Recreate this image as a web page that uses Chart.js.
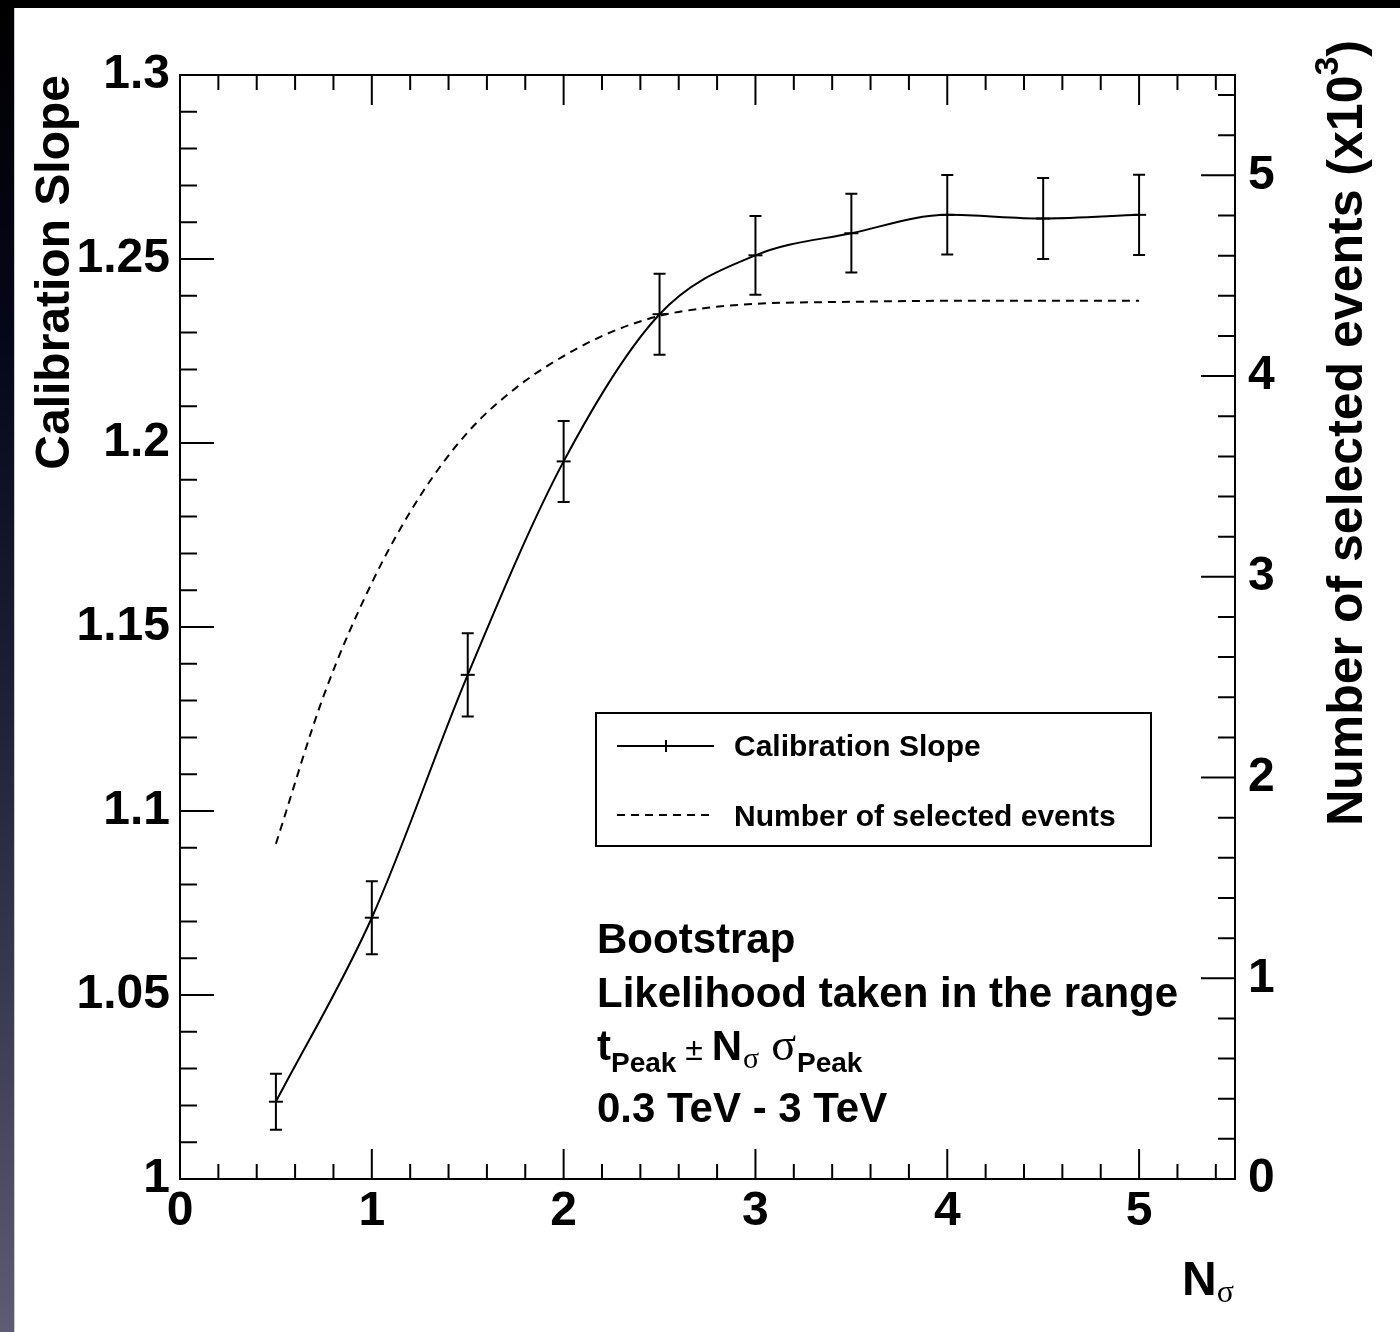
<!DOCTYPE html>
<html>
<head>
<meta charset="utf-8">
<title>Calibration Slope vs N sigma</title>
<script src="https://cdn.jsdelivr.net/npm/chart.js@4.4.1/dist/chart.umd.min.js"></script>
<style>
  html, body { margin:0; padding:0; }
  body { width:1400px; height:1332px; position:relative; overflow:hidden; background:#000; }
  #strip { position:absolute; left:0; top:0; width:14px; height:1332px;
    background: linear-gradient(to bottom, #000 0%, #06061a 25%, #1c1c34 50%, #3a3a52 75%, #5e5c74 100%); }
  #paper { position:absolute; left:14px; top:8px; width:1386px; height:1324px; background:#fff; box-shadow: inset 1px 0 0 #c9c9d2; }
  #c { position:absolute; left:0; top:0; }
</style>
</head>
<body>
<div id="strip"></div>
<div id="paper"></div>
<canvas id="c" width="1400" height="1332"></canvas>
<script>
// ---- data ----
const nSigma = [0.5, 1, 1.5, 2, 2.5, 3, 3.5, 4, 4.5, 5];
const calibSlope = [1.021, 1.071, 1.137, 1.195, 1.235, 1.251, 1.257, 1.262, 1.261, 1.262];
const calibSlopeErr = [0.0076, 0.0099, 0.0113, 0.011, 0.011, 0.0107, 0.0107, 0.0108, 0.011, 0.0109];
const eventsX = [0.5, 0.75, 1, 1.25, 1.5, 1.75, 2, 2.25, 2.5, 2.75, 3, 3.5, 4, 4.5, 5];
const eventsK = [1.67, 2.41, 2.97, 3.40, 3.72, 3.94, 4.10, 4.22, 4.30, 4.34, 4.36, 4.37, 4.375, 4.375, 4.375];
const slopeTickLabels = ['1', '1.05', '1.1', '1.15', '1.2', '1.25', '1.3'];
const xTickLabels = ['0', '1', '2', '3', '4', '5'];
const eventTickLabels = ['0', '1', '2', '3', '4', '5'];
const legendLabels = ['Calibration Slope', 'Number of selected events'];
const infoLines = ['Bootstrap', 'Likelihood taken in the range', '0.3 TeV - 3 TeV'];

const FONT = '"Liberation Sans", Arial, Helvetica, sans-serif';
const SERIF = '"Liberation Serif", "Times New Roman", serif';

Chart.defaults.color = '#000';
Chart.defaults.font.family = FONT;

function isMultiple(v, step) { const r = v / step; return Math.abs(r - Math.round(r)) < 1e-6; }

const rootPlugin = {
  id: 'rootStyle',
  afterDatasetsDraw(chart) {
    const { ctx, scales: { x, y } } = chart;
    ctx.save();
    ctx.strokeStyle = '#000'; ctx.lineWidth = 2;
    nSigma.forEach((v, i) => {
      const px = x.getPixelForValue(v);
      const pt = y.getPixelForValue(calibSlope[i] + calibSlopeErr[i]);
      const pb = y.getPixelForValue(calibSlope[i] - calibSlopeErr[i]);
      ctx.beginPath();
      ctx.moveTo(px, pt); ctx.lineTo(px, pb);
      ctx.moveTo(px - 6, pt); ctx.lineTo(px + 6, pt);
      ctx.moveTo(px - 6, pb); ctx.lineTo(px + 6, pb);
      ctx.stroke();
    });
    ctx.restore();
  },
  afterDraw(chart) {
    const { ctx, chartArea: a, scales: { x, y, y2 } } = chart;
    ctx.save();
    ctx.strokeStyle = '#000'; ctx.fillStyle = '#000'; ctx.lineWidth = 2; ctx.lineCap = 'butt';
    ctx.strokeRect(a.left, a.top, a.right - a.left, a.bottom - a.top);
    ctx.beginPath();
    x.ticks.forEach(t => {
      const p = x.getPixelForValue(t.value);
      const len = isMultiple(t.value, 1) ? 30 : 15;
      ctx.moveTo(p, a.bottom); ctx.lineTo(p, a.bottom - len);
      ctx.moveTo(p, a.top); ctx.lineTo(p, a.top + len);
    });
    y.ticks.forEach(t => {
      const p = y.getPixelForValue(t.value);
      const len = isMultiple(t.value - 1, 0.05) ? 34 : 17;
      ctx.moveTo(a.left, p); ctx.lineTo(a.left + len, p);
    });
    y2.ticks.forEach(t => {
      const p = y2.getPixelForValue(t.value);
      const len = isMultiple(t.value, 1) ? 34 : 17;
      ctx.moveTo(a.right, p); ctx.lineTo(a.right - len, p);
    });
    ctx.stroke();

    function txt(s, px, py, size, opts = {}) {
      ctx.font = `${opts.weight || 'bold'} ${size}px ${opts.family || FONT}`;
      ctx.textAlign = 'left'; ctx.textBaseline = 'alphabetic';
      ctx.fillText(s, px, py);
      return px + ctx.measureText(s).width;
    }

    // legend
    ctx.strokeRect(596, 713, 555, 133);
    ctx.beginPath();
    ctx.moveTo(617, 746); ctx.lineTo(714, 746);
    ctx.moveTo(666, 740); ctx.lineTo(666, 752);
    ctx.stroke();
    ctx.setLineDash([8, 6]);
    ctx.beginPath(); ctx.moveTo(617, 815); ctx.lineTo(714, 815); ctx.stroke();
    ctx.setLineDash([]);
    txt(legendLabels[0], 734, 756, 30);
    txt(legendLabels[1], 734, 826, 30);

    // info text
    txt(infoLines[0], 597, 953, 42);
    txt(infoLines[1], 597, 1007, 42);
    let cx = txt('t', 597, 1060, 42);
    cx = txt('Peak', cx, 1072, 28);
    cx = txt(' \u00B1 ', cx, 1060, 32, { weight: 'normal' });
    cx = txt('N', cx, 1060, 42);
    cx = txt('\u03C3', cx + 1, 1068, 30, { weight: 'normal', family: SERIF });
    cx = txt('\u03C3', cx + 12, 1060, 46, { weight: 'normal', family: SERIF });
    txt('Peak', cx + 1, 1072, 28);
    txt(infoLines[2], 597, 1122, 42);

    // x axis title
    let nx = txt('N', 1182, 1295, 48);
    txt('\u03C3', nx, 1302, 32, { weight: 'normal', family: SERIF });

    // right axis title (reads bottom to top)
    ctx.save();
    const main = 'Number of selected events (x10';
    ctx.font = `bold 50px ${FONT}`;
    const w1 = ctx.measureText(main).width;
    ctx.font = `bold 34px ${FONT}`;
    const w2 = ctx.measureText('3').width;
    ctx.font = `bold 50px ${FONT}`;
    const w3 = ctx.measureText(')').width;
    const total = w1 + w2 + w3;
    ctx.translate(1362, 40 + total);
    ctx.rotate(-Math.PI / 2);
    let rx = txt(main, 0, 0, 50);
    rx = txt('3', rx, -24, 34);
    txt(')', rx, 0, 50);
    ctx.restore();

    ctx.restore();
  }
};

new Chart(document.getElementById('c'), {
  type: 'line',
  data: {
    datasets: [
      {
        label: legendLabels[0],
        data: nSigma.map((v, i) => ({ x: v, y: calibSlope[i] })),
        yAxisID: 'y',
        borderColor: '#000',
        borderWidth: 2,
        pointStyle: 'line',
        pointRadius: 7,
        pointBorderWidth: 2,
        pointBorderColor: '#000',
        cubicInterpolationMode: 'monotone',
        fill: false
      },
      {
        label: legendLabels[1],
        data: eventsX.map((v, i) => ({ x: v, y: eventsK[i] })),
        yAxisID: 'y2',
        borderColor: '#000',
        borderWidth: 2,
        borderDash: [8, 6],
        pointRadius: 0,
        cubicInterpolationMode: 'monotone',
        fill: false
      }
    ]
  },
  options: {
    responsive: false,
    animation: false,
    events: [],
    layout: { padding: { top: 75, left: 0, right: 0, bottom: 0 } },
    plugins: { legend: { display: false }, tooltip: { enabled: false } },
    scales: {
      x: {
        type: 'linear', position: 'bottom', min: 0, max: 5.5,
        grid: { display: false, drawTicks: false },
        border: { display: false },
        ticks: {
          stepSize: 0.2, includeBounds: false, autoSkip: false, maxRotation: 0, padding: 4,
          font: { size: 48, weight: 'bold' },
          callback: v => isMultiple(v, 1) ? xTickLabels[Math.round(v)] : ''
        },
        afterFit: s => { s.height = 153; }
      },
      y: {
        type: 'linear', position: 'left', min: 1, max: 1.3,
        grid: { display: false, drawTicks: false },
        border: { display: false },
        ticks: {
          stepSize: 0.01, autoSkip: false, padding: 10,
          font: { size: 48, weight: 'bold' },
          callback: v => isMultiple(v - 1, 0.05) ? slopeTickLabels[Math.round((v - 1) / 0.05)] : ''
        },
        title: { display: true, text: 'Calibration Slope', align: 'end',
          font: { size: 48, weight: 'bold' }, padding: { top: 27, bottom: 0 } },
        afterFit: s => { s.width = 180; }
      },
      y2: {
        type: 'linear', position: 'right', min: 0, max: 5.5,
        grid: { display: false, drawTicks: false },
        border: { display: false },
        ticks: {
          stepSize: 0.2, includeBounds: false, autoSkip: false, padding: 13,
          font: { size: 48, weight: 'bold' },
          callback: v => isMultiple(v, 1) ? eventTickLabels[Math.round(v)] : ''
        },
        afterFit: s => { s.width = 165; }
      }
    }
  },
  plugins: [rootPlugin]
});
</script>
</body>
</html>
